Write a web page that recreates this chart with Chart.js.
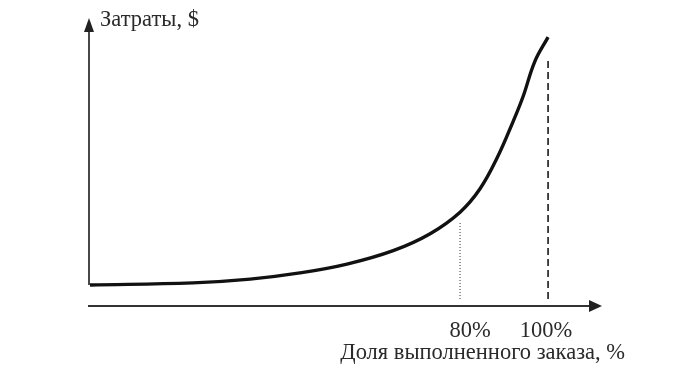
<!DOCTYPE html>
<html>
<head>
<meta charset="utf-8">
<script src="https://cdn.jsdelivr.net/npm/chart.js@4/dist/chart.umd.min.js"></script>
<style>
  html, body { margin: 0; padding: 0; background: #fff; }
  #wrap { width: 700px; height: 384px; position: relative; }
</style>
</head>
<body>
<div id="wrap"><canvas id="c" width="700" height="384"></canvas></div>
<script>
// Share of completed order (%) and cost (relative units)
const orderShare = [-4.1, 19.3, 32.3, 43.6, 54.3, 64.8, 73.2, 80.0, 84.5, 88.4, 92.0, 94.3, 97.0, 100];
const costValues = [7.8, 8.6, 10.0, 12.3, 15.6, 20.6, 26.9, 34.9, 43.5, 55.0, 68.4, 77.8, 91.0, 100];
const tickValues = [80, 100];
const tickLabels = ['80%', '100%'];
const markerTops = [30.9, 92.2];   // where the vertical guide lines start
const markerBottom = 2.6;
const yAxisTitle = 'Затраты, $';
const xAxisTitle = 'Доля выполненного заказа, %';

const curve = orderShare.map((x, i) => ({ x: x, y: costValues[i] }));

const axesPlugin = {
  id: 'arrowAxes',
  afterDatasetsDraw(chart) {
    const ctx = chart.ctx;
    const xs = chart.scales.x, ys = chart.scales.y;
    const left = xs.getPixelForValue(orderShare[0]);
    const bottom = ys.getPixelForValue(0);
    const top = chart.chartArea.top;
    const right = chart.chartArea.right;
    ctx.save();
    ctx.strokeStyle = '#333';
    ctx.fillStyle = '#222';
    ctx.lineWidth = 1.8;
    // y axis
    const yStart = ys.getPixelForValue(costValues[0]);
    ctx.beginPath();
    ctx.moveTo(left - 1, yStart);
    ctx.lineTo(left - 1, top + 10);
    ctx.stroke();
    ctx.beginPath();
    ctx.moveTo(left - 1, top);
    ctx.lineTo(left - 6, top + 14);
    ctx.lineTo(left + 4, top + 14);
    ctx.closePath();
    ctx.fill();
    // x axis
    ctx.beginPath();
    ctx.moveTo(left - 2, bottom);
    ctx.lineTo(right - 10, bottom);
    ctx.stroke();
    ctx.beginPath();
    ctx.moveTo(right + 2, bottom);
    ctx.lineTo(right - 11, bottom - 6);
    ctx.lineTo(right - 11, bottom + 6);
    ctx.closePath();
    ctx.fill();
    // texts
    ctx.fillStyle = '#2a2a2a';
    ctx.font = '22.5px "Liberation Serif", "DejaVu Serif", serif';
    ctx.textBaseline = 'alphabetic';
    ctx.textAlign = 'left';
    ctx.fillText(yAxisTitle, left + 10, top + 8);
    ctx.textAlign = 'center';
    const offsets = [10, -2];
    tickValues.forEach((v, i) => {
      ctx.fillText(tickLabels[i], xs.getPixelForValue(v) + offsets[i], bottom + 31);
    });
    ctx.textAlign = 'right';
    ctx.fillText(xAxisTitle, 625, bottom + 53);
    ctx.restore();
  }
};

new Chart(document.getElementById('c'), {
  type: 'line',
  data: {
    datasets: [
      {
        data: curve,
        borderColor: '#111',
        borderWidth: 3.4,
        pointRadius: 0,
        tension: 0.4,
        fill: false
      },
      {
        data: [{ x: tickValues[0], y: markerBottom }, { x: tickValues[0], y: markerTops[0] }],
        borderColor: '#555',
        borderWidth: 1.2,
        borderDash: [1, 2],
        pointRadius: 0
      },
      {
        data: [{ x: tickValues[1], y: markerBottom }, { x: tickValues[1], y: markerTops[1] }],
        borderColor: '#333',
        borderWidth: 1.8,
        borderDash: [7, 4],
        pointRadius: 0
      }
    ]
  },
  plugins: [axesPlugin],
  options: {
    responsive: false,
    animation: false,
    events: [],
    layout: { padding: { left: 90, right: 100, top: 18, bottom: 78 } },
    plugins: { legend: { display: false }, tooltip: { enabled: false }, title: { display: false } },
    scales: {
      x: { type: 'linear', min: -4.1, max: 111.8, display: false },
      y: { type: 'linear', min: 0, max: 107.1, display: false }
    }
  }
});
</script>
</body>
</html>
